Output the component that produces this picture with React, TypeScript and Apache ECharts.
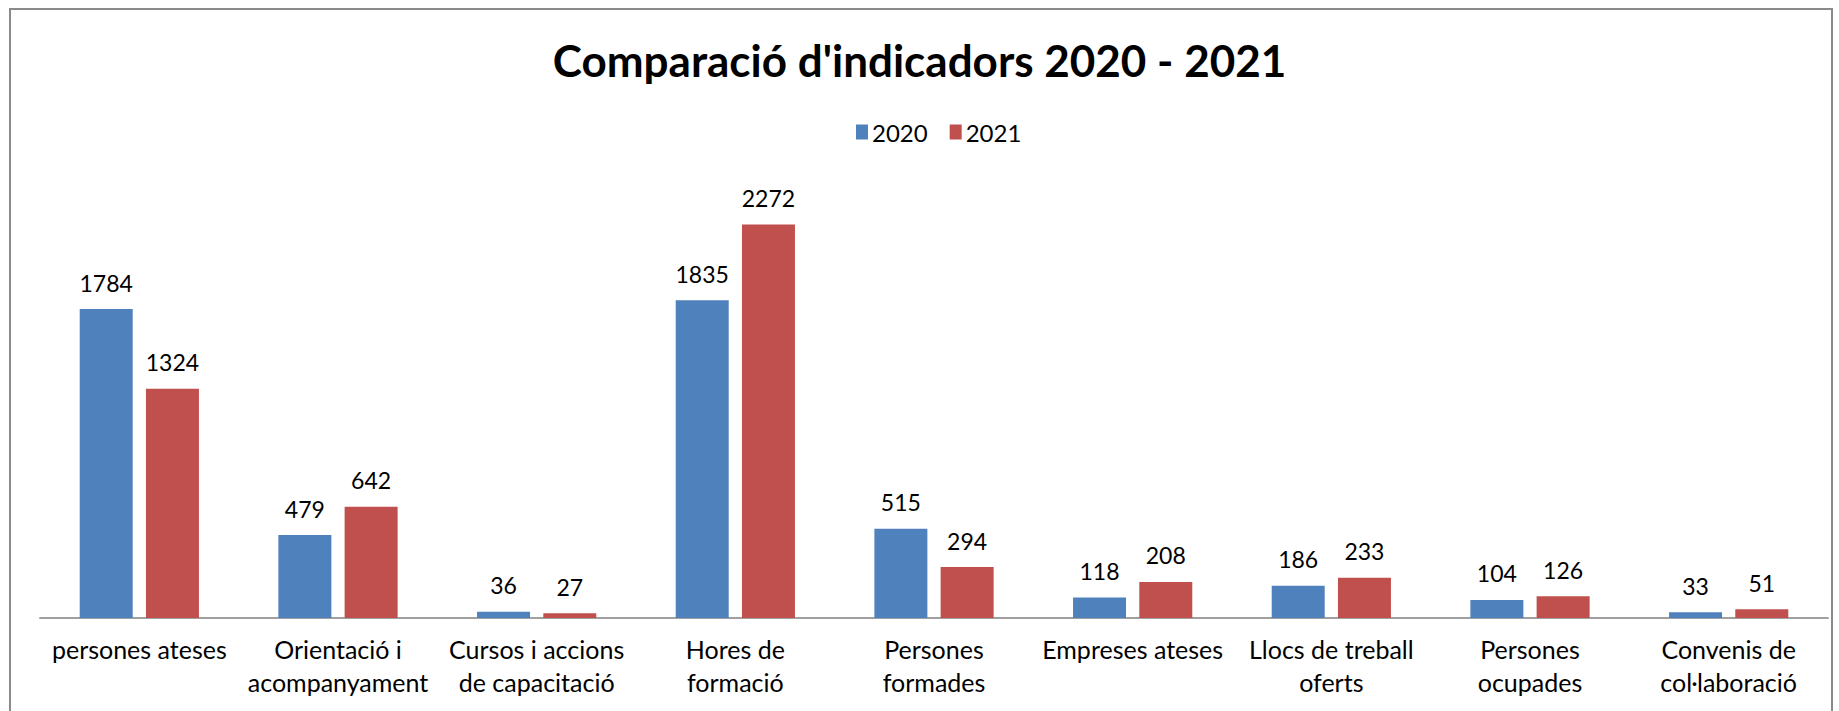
import React, { useEffect, useRef } from "react";
import * as echarts from "echarts";

const categories = [
  "persones ateses",
  "Orientació i\nacompanyament",
  "Cursos i accions\nde capacitació",
  "Hores de\nformació",
  "Persones\nformades",
  "Empreses ateses",
  "Llocs de treball\noferts",
  "Persones\nocupades",
  "Convenis de\ncol·laboració",
];
const values2020 = [1784, 479, 36, 1835, 515, 118, 186, 104, 33];
const values2021 = [1324, 642, 27, 2272, 294, 208, 233, 126, 51];
const seriesNames = ["2020", "2021"];

const FONT = "Lato, 'Noto Sans', sans-serif";

export default function App() {
  const ref = useRef<HTMLDivElement>(null);
  useEffect(() => {
    document.body.style.margin = "0";
    if (!ref.current) return;
    const chart = echarts.init(ref.current, undefined, { renderer: "svg" });
    const labelStyle = {
      show: true,
      position: "top" as const,
      distance: 15,
      color: "#000",
      fontSize: 23,
      fontFamily: FONT,
    };
    chart.setOption({
      animation: false,
      backgroundColor: "#fff",
      title: {
        text: "Comparació d'indicadors 2020 - 2021",
        left: "center",
        top: 33,
        textStyle: { fontFamily: FONT, fontWeight: "bold", fontSize: 44, color: "#000" },
      },
      legend: {
        top: 120,
        left: 856,
        padding: 0,
        itemWidth: 12,
        itemHeight: 15,
        itemGap: 22,
        icon: "rect",
        textStyle: { fontFamily: FONT, fontSize: 24, color: "#000", padding: [0, 0, 0, -1] },
        data: seriesNames,
      },
      graphic: [
        {
          type: "rect",
          shape: { x: 10, y: 9, width: 1822, height: 740 },
          style: { fill: "none", stroke: "#8a8a8a", lineWidth: 2 },
          silent: true,
        },
      ],
      grid: { left: 40, right: 11, top: 185, bottom: 93 },
      xAxis: {
        type: "category",
        data: categories,
        axisLine: { lineStyle: { color: "#a0a0a0", width: 2 } },
        axisTick: { show: false },
        axisLabel: {
          interval: 0,
          margin: 14,
          fontFamily: FONT,
          fontSize: 25,
          color: "#000",
          lineHeight: 33,
        },
      },
      yAxis: {
        type: "value",
        min: 0,
        max: 2500,
        show: false,
        splitLine: { show: false },
      },
      series: [
        {
          name: seriesNames[0],
          type: "bar",
          data: values2020,
          barWidth: 53,
          barGap: "25%",
          itemStyle: { color: "#4F81BD" },
          label: labelStyle,
        },
        {
          name: seriesNames[1],
          type: "bar",
          data: values2021,
          barWidth: 53,
          itemStyle: { color: "#C0504D" },
          label: labelStyle,
        },
      ],
    });
    return () => chart.dispose();
  }, []);
  return <div ref={ref} style={{ width: 1839, height: 711 }} />;
}
